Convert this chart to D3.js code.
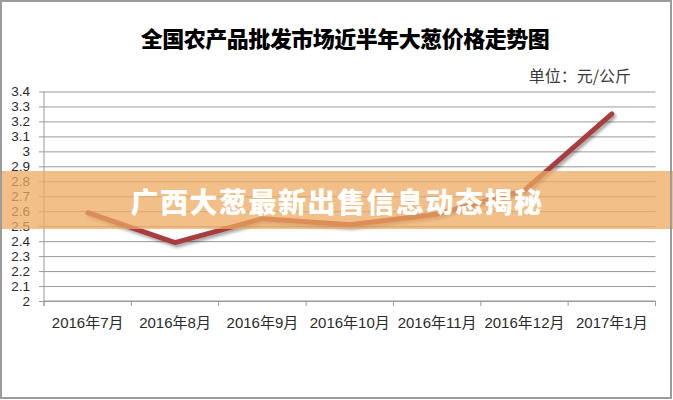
<!DOCTYPE html>
<html>
<head>
<meta charset="utf-8">
<script src="https://cdn.jsdelivr.net/npm/d3@7"></script>
<style>
  html, body { margin: 0; padding: 0; background: #fff; }
  svg { display: block; }
</style>
</head>
<body>
<script>
// Monthly wholesale price of scallions (yuan / kg)
const months = ["2016年7月", "2016年8月", "2016年9月", "2016年10月", "2016年11月", "2016年12月", "2017年1月"];
const prices = [2.59, 2.39, 2.55, 2.51, 2.58, 2.74, 3.25];
const yTicks = [2, 2.1, 2.2, 2.3, 2.4, 2.5, 2.6, 2.7, 2.8, 2.9, 3, 3.1, 3.2, 3.3, 3.4];

const titleText = "全国农产品批发市场近半年大葱价格走势图";
const unitText = "单位：元/公斤";
const bannerText = "广西大葱最新出售信息动态揭秘";

const W = 673, H = 400;
const plot = { left: 44, right: 655.5, top: 91.5, bottom: 301 };

const svg = d3.select("body").append("svg")
  .attr("width", W).attr("height", H);

svg.append("rect").attr("width", W).attr("height", H).attr("fill", "#fff");

// soft shadow under the price line
const defs = svg.append("defs");
const f = defs.append("filter").attr("id", "lineShadow")
  .attr("x", "-10%").attr("y", "-10%").attr("width", "130%").attr("height", "130%");
f.append("feDropShadow").attr("dx", 2).attr("dy", 2.5)
  .attr("stdDeviation", 1.6).attr("flood-color", "#000").attr("flood-opacity", 0.35);

const x = d3.scaleBand().domain(months).range([plot.left, plot.right]).padding(0);
const y = d3.scaleLinear().domain([2, 3.4]).range([plot.bottom, plot.top]);

const font = "'Liberation Sans', 'Noto Sans CJK SC', sans-serif";

// horizontal gridlines + y axis labels
const yAxis = d3.axisLeft(y)
  .tickValues(yTicks)
  .tickSize(-(plot.right - plot.left + 5))
  .tickPadding(9)
  .tickFormat(d => String(+d.toFixed(1)));

const gy = svg.append("g")
  .attr("transform", `translate(${plot.left - 5},0)`)
  .call(yAxis);
gy.select(".domain").remove();
gy.selectAll(".tick line").attr("stroke", "#9a9a9a").attr("stroke-width", 1)
  .attr("x1", 0).attr("x2", plot.right - plot.left + 5);
gy.selectAll(".tick text")
  .attr("fill", "#2a2a2a")
  .attr("font-family", font)
  .attr("font-size", 13.5)
  .attr("x", -9);

// vertical value axis line
svg.append("line")
  .attr("x1", plot.left).attr("x2", plot.left)
  .attr("y1", plot.top).attr("y2", plot.bottom + 5)
  .attr("stroke", "#9a9a9a").attr("stroke-width", 1);

// category axis with ticks on band boundaries
const xAxis = d3.axisBottom(x).tickSize(0).tickPadding(16);
const gx = svg.append("g")
  .attr("transform", `translate(0,${plot.bottom})`)
  .call(xAxis);
gx.select(".domain").attr("stroke", "#9a9a9a").attr("d", `M${plot.left},0H${plot.right}`);
gx.selectAll(".tick text")
  .attr("fill", "#2a2a2a")
  .attr("font-family", font)
  .attr("font-size", 15);

const edges = months.map(m => x(m)).concat([x(months[months.length - 1]) + x.bandwidth()]);
gx.selectAll(".edge").data(edges).enter().append("line")
  .attr("class", "edge")
  .attr("x1", d => d).attr("x2", d => d)
  .attr("y1", 0).attr("y2", 5)
  .attr("stroke", "#9a9a9a");

// price line
const line = d3.line()
  .x((d, i) => x(months[i]) + x.bandwidth() / 2)
  .y(d => y(d));

svg.append("path")
  .datum(prices)
  .attr("d", line)
  .attr("fill", "none")
  .attr("stroke", "#a83d3f")
  .attr("stroke-width", 5)
  .attr("stroke-linejoin", "round")
  .attr("stroke-linecap", "round")
  .attr("filter", "url(#lineShadow)");

// title and unit
svg.append("text")
  .attr("x", 345).attr("y", 37)
  .attr("text-anchor", "middle")
  .attr("dominant-baseline", "central")
  .attr("font-family", "'Noto Sans CJK SC', sans-serif")
  .attr("font-weight", 900)
  .attr("font-size", 22)
  .attr("letter-spacing", -0.5)
  .attr("fill", "#000")
  .text(titleText);

svg.append("text")
  .attr("x", 631).attr("y", 75)
  .attr("text-anchor", "end")
  .attr("dominant-baseline", "central")
  .attr("font-family", "'Noto Sans CJK SC', sans-serif")
  .attr("font-size", 16)
  .attr("fill", "#3a3a3a")
  .text(unitText);

// translucent headline banner across the chart
svg.append("rect")
  .attr("x", 0).attr("y", 171).attr("width", W).attr("height", 58)
  .attr("fill", "rgb(238,170,98)")
  .attr("fill-opacity", 0.75);

svg.append("text")
  .attr("x", 337).attr("y", 201)
  .attr("text-anchor", "middle")
  .attr("dominant-baseline", "central")
  .attr("font-family", "'Noto Sans CJK SC', sans-serif")
  .attr("font-weight", 900)
  .attr("font-size", 28)
  .attr("letter-spacing", 1.5)
  .attr("fill", "#fff")
  .text(bannerText);

// outer frame
svg.append("rect")
  .attr("x", 1).attr("y", 1).attr("width", 670).attr("height", 397)
  .attr("fill", "none")
  .attr("stroke", "#9c9c9c")
  .attr("stroke-width", 2);
</script>
</body>
</html>
